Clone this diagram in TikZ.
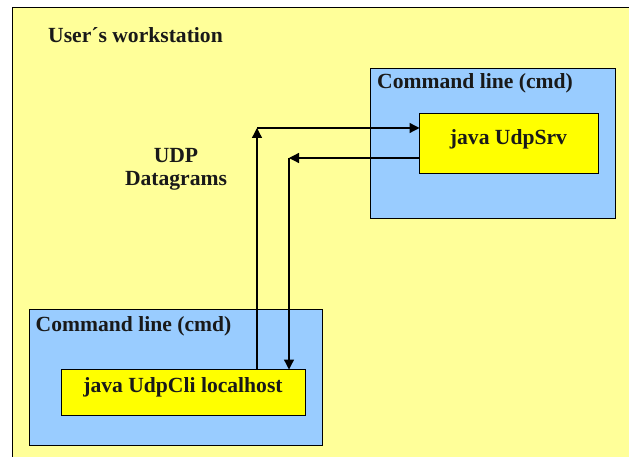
\documentclass[tikz,border=0pt]{standalone}
\usepackage{fontspec}
\setmainfont{Liberation Serif}
\usetikzlibrary{arrows.meta}
\definecolor{paleyellow}{HTML}{FFFF99}
\definecolor{skyblue}{HTML}{99CCFF}
\definecolor{pureyellow}{HTML}{FFFF00}
\tikzset{
  box/.style={draw=black,line width=1.5pt,inner sep=0pt,outer sep=0pt,anchor=north west},
  cmdbox/.style={box,fill=skyblue},
  progbox/.style={box,fill=pureyellow},
  lbl/.style={inner sep=0pt,font=\fontsize{21.6}{24}\selectfont\bfseries,text=black!90!white},
  conn/.style={line width=1.3pt,black},
  tip/.style={-{Triangle[length=10pt,width=10pt]}}
}
\begin{document}
\begin{tikzpicture}[x=1pt,y=-1pt]
\useasboundingbox (0,0) rectangle (629,457);
\fill[white] (0,0) rectangle (629,457);
\path[fill=paleyellow] (12.5,7.5) rectangle (640,470);
\draw[line width=1.5pt,black] (12.5,470) -- (12.5,7.5) -- (640,7.5);
\node[lbl,anchor=base west] (ws) at (48,43) {User´s workstation};
\node[cmdbox,minimum width=245pt,minimum height=150pt] (srvcmd) at (370.5,68.5) {};
\node[progbox,minimum width=179pt,minimum height=60pt] (srv) at (419.5,113.5) {};
\node[cmdbox,minimum width=293pt,minimum height=136pt] (clicmd) at (29.5,309.5) {};
\node[progbox,minimum width=244pt,minimum height=46pt] (cli) at (61.5,369.5) {};
\node[lbl,anchor=base west] (t1) at (377,89) {Command line (cmd)};
\node[lbl,anchor=base west] (t2) at (35.5,331) {Command line (cmd)};
\node[lbl,anchor=base] (t3) at (508.5,145) {java UdpSrv};
\node[lbl,anchor=base] (t4) at (183,392) {java UdpCli localhost};
\node[lbl,anchor=base] (t5) at (176,163) {UDP};
\node[lbl,anchor=base] (t6) at (176,186) {Datagrams};
\coordinate (outcorner) at (257,128);
\coordinate (backcorner) at (289,158);
\draw[conn,tip] (cli.north -| outcorner) -- (outcorner);
\draw[conn,tip] (outcorner) -- (srv.west |- outcorner);
\draw[conn,tip] (srv.west |- backcorner) -- (backcorner);
\draw[conn,tip] (backcorner) -- (cli.north -| backcorner);
\end{tikzpicture}
\end{document}
